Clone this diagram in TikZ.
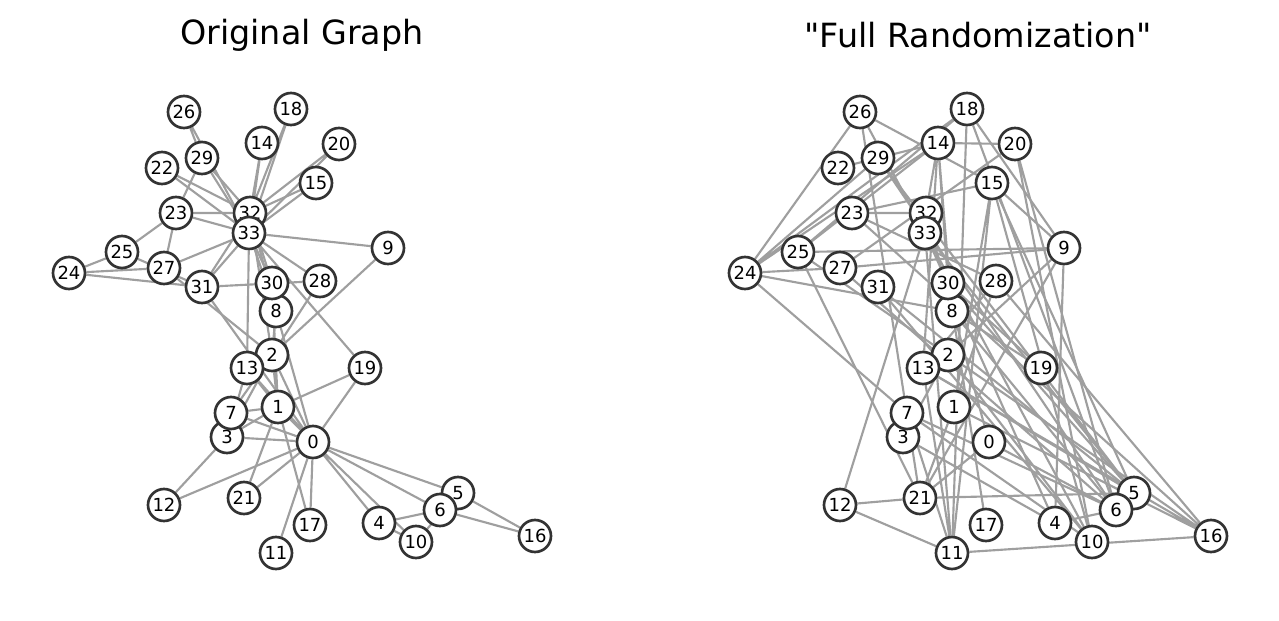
\documentclass[tikz,border=0pt]{standalone}
\usepackage{fontspec}
\setmainfont{DejaVu Sans}[Ligatures=TeXOff]
\usetikzlibrary{backgrounds}

\tikzset{
  vertex/.style={circle,draw=black!80,line width=2pt,fill=white,minimum size=24pt,inner sep=0pt,font=\fontsize{13.5}{15}\selectfont},
  edge/.style={draw=gray!75,line width=1.6pt},
  title/.style={font=\fontsize{25}{30}\selectfont}
}

\begin{document}
\begin{tikzpicture}[x=0.75pt,y=0.75pt,yscale=-1,xscale=1]
\useasboundingbox (0,0) rectangle (1279,621);

% Titles
\node[title] (ltitle) at (302,35) {Original Graph};
\node[title] (rtitle) at (978,35) {"Full Randomization"};

% Nodes of the original graph
\node[vertex] (l0) at (313,442) {0};
\node[vertex] (l1) at (278,407) {1};
\node[vertex] (l2) at (272,355) {2};
\node[vertex] (l3) at (227,437) {3};
\node[vertex] (l4) at (379,523) {4};
\node[vertex] (l5) at (458,493) {5};
\node[vertex] (l6) at (440,510) {6};
\node[vertex] (l7) at (231,413) {7};
\node[vertex] (l8) at (276,311) {8};
\node[vertex] (l9) at (388,248) {9};
\node[vertex] (l10) at (416,542) {10};
\node[vertex] (l11) at (276,553) {11};
\node[vertex] (l12) at (164,505) {12};
\node[vertex] (l13) at (247,368) {13};
\node[vertex] (l14) at (262,143) {14};
\node[vertex] (l15) at (316,183) {15};
\node[vertex] (l16) at (535,536) {16};
\node[vertex] (l17) at (310,525) {17};
\node[vertex] (l18) at (291,109) {18};
\node[vertex] (l19) at (365,368) {19};
\node[vertex] (l20) at (339,144) {20};
\node[vertex] (l21) at (244,498) {21};
\node[vertex] (l22) at (162,168) {22};
\node[vertex] (l23) at (176,213) {23};
\node[vertex] (l24) at (69,273) {24};
\node[vertex] (l25) at (122,252) {25};
\node[vertex] (l26) at (184,112) {26};
\node[vertex] (l27) at (164,268) {27};
\node[vertex] (l28) at (320,281) {28};
\node[vertex] (l29) at (202,158) {29};
\node[vertex] (l30) at (272,283) {30};
\node[vertex] (l31) at (202,287) {31};
\node[vertex] (l32) at (250,213) {32};
\node[vertex] (l33) at (249,233) {33};

% Nodes of the randomized graph
\node[vertex] (r0) at (989,442) {0};
\node[vertex] (r1) at (954,407) {1};
\node[vertex] (r2) at (948,355) {2};
\node[vertex] (r3) at (903,437) {3};
\node[vertex] (r4) at (1055,523) {4};
\node[vertex] (r5) at (1134,493) {5};
\node[vertex] (r6) at (1116,510) {6};
\node[vertex] (r7) at (907,413) {7};
\node[vertex] (r8) at (952,311) {8};
\node[vertex] (r9) at (1064,248) {9};
\node[vertex] (r10) at (1092,542) {10};
\node[vertex] (r11) at (952,553) {11};
\node[vertex] (r12) at (840,505) {12};
\node[vertex] (r13) at (923,368) {13};
\node[vertex] (r14) at (938,143) {14};
\node[vertex] (r15) at (992,183) {15};
\node[vertex] (r16) at (1211,536) {16};
\node[vertex] (r17) at (986,525) {17};
\node[vertex] (r18) at (967,109) {18};
\node[vertex] (r19) at (1041,368) {19};
\node[vertex] (r20) at (1015,144) {20};
\node[vertex] (r21) at (920,498) {21};
\node[vertex] (r22) at (838,168) {22};
\node[vertex] (r23) at (852,213) {23};
\node[vertex] (r24) at (745,273) {24};
\node[vertex] (r25) at (798,252) {25};
\node[vertex] (r26) at (860,112) {26};
\node[vertex] (r27) at (840,268) {27};
\node[vertex] (r28) at (996,281) {28};
\node[vertex] (r29) at (878,158) {29};
\node[vertex] (r30) at (948,283) {30};
\node[vertex] (r31) at (878,287) {31};
\node[vertex] (r32) at (926,213) {32};
\node[vertex] (r33) at (925,233) {33};

\begin{pgfonlayer}{background}
%Straight Lines of the original graph
\draw[edge] (l0)--(l1) (l0)--(l2) (l0)--(l3) (l0)--(l4) (l0)--(l5) (l0)--(l6) (l0)--(l7) (l0)--(l8) (l0)--(l10) (l0)--(l11) (l0)--(l12) (l0)--(l13) (l0)--(l17) (l0)--(l19) (l0)--(l21) (l0)--(l31);
\draw[edge] (l1)--(l2) (l1)--(l3) (l1)--(l7) (l1)--(l13) (l1)--(l17) (l1)--(l19) (l1)--(l21) (l1)--(l30);
\draw[edge] (l2)--(l3) (l2)--(l7) (l2)--(l8) (l2)--(l9) (l2)--(l13) (l2)--(l27) (l2)--(l28) (l2)--(l32);
\draw[edge] (l3)--(l7) (l3)--(l12) (l3)--(l13);
\draw[edge] (l4)--(l6) (l4)--(l10) (l5)--(l6) (l5)--(l10) (l5)--(l16) (l6)--(l16);
\draw[edge] (l8)--(l30) (l8)--(l32) (l8)--(l33) (l9)--(l33) (l13)--(l33);
\draw[edge] (l14)--(l32) (l14)--(l33) (l15)--(l32) (l15)--(l33) (l18)--(l32) (l18)--(l33) (l19)--(l33);
\draw[edge] (l20)--(l32) (l20)--(l33) (l22)--(l32) (l22)--(l33);
\draw[edge] (l23)--(l25) (l23)--(l27) (l23)--(l29) (l23)--(l32) (l23)--(l33);
\draw[edge] (l24)--(l25) (l24)--(l27) (l24)--(l31) (l25)--(l31) (l26)--(l29) (l26)--(l33) (l27)--(l33);
\draw[edge] (l28)--(l31) (l28)--(l33) (l29)--(l32) (l29)--(l33) (l30)--(l32) (l30)--(l33) (l31)--(l32) (l31)--(l33) (l32)--(l33);

%Straight Lines of the randomized graph
\draw[edge] (r24)--(r26) (r24)--(r29) (r24)--(r14) (r24)--(r18) (r24)--(r27) (r24)--(r8) (r24)--(r7);
\draw[edge] (r25)--(r21) (r25)--(r9) (r25)--(r2) (r25)--(r14) (r25)--(r18);
\draw[edge] (r22)--(r29) (r22)--(r14) (r26)--(r15) (r26)--(r21) (r26)--(r10);
\draw[edge] (r12)--(r21) (r12)--(r11) (r12)--(r33) (r21)--(r5) (r11)--(r16);
\draw[edge] (r14)--(r20) (r14)--(r30) (r14)--(r13) (r14)--(r8) (r14)--(r32);
\draw[edge] (r18)--(r11) (r18)--(r9) (r18)--(r6);
\draw[edge] (r20)--(r27) (r20)--(r10) (r20)--(r6);
\draw[edge] (r15)--(r9) (r15)--(r5) (r15)--(r10) (r15)--(r23) (r15)--(r1) (r15)--(r11);
\draw[edge] (r27)--(r9) (r27)--(r6) (r9)--(r2) (r9)--(r21) (r9)--(r4);
\draw[edge] (r16)--(r28) (r16)--(r2) (r16)--(r13) (r16)--(r1) (r23)--(r16) (r23)--(r28) (r23)--(r32);
\draw[edge] (r21)--(r0) (r21)--(r1) (r11)--(r13) (r11)--(r7) (r11)--(r33);
\draw[edge] (r29)--(r6) (r29)--(r5) (r31)--(r5) (r31)--(r10) (r33)--(r4) (r33)--(r5) (r32)--(r0);
\draw[edge] (r30)--(r5) (r30)--(r19) (r30)--(r17) (r8)--(r6) (r8)--(r19);
\draw[edge] (r2)--(r3) (r2)--(r10) (r13)--(r5) (r13)--(r28) (r7)--(r10) (r7)--(r6) (r3)--(r4) (r4)--(r6) (r0)--(r6) (r1)--(r28);
\end{pgfonlayer}

\end{tikzpicture}
\end{document}
